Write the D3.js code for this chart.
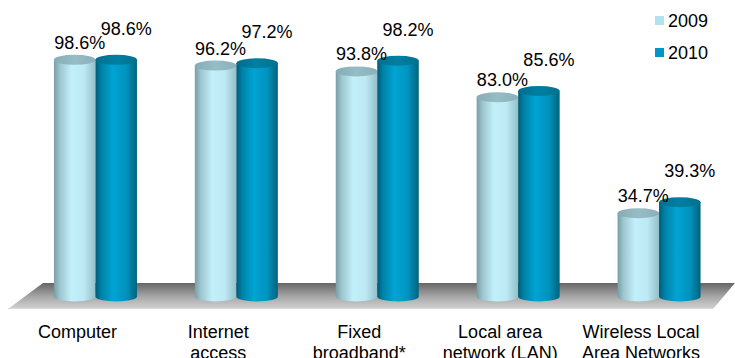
<!DOCTYPE html>
<html>
<head>
<meta charset="utf-8">
<script src="https://cdn.jsdelivr.net/npm/d3@7"></script>
<style>
  html, body { margin: 0; padding: 0; background: #fff; }
  svg { display: block; font-family: "Liberation Sans", Arial, sans-serif; }
</style>
</head>
<body>
<svg id="chart" width="735" height="358"></svg>
<script>
// Share of enterprises using each technology, 2009 vs 2010
const categories = ["Computer", "Internet access", "Fixed broadband*", "Local area network (LAN)", "Wireless Local Area Networks"];
const categoryLines = [["Computer"], ["Internet", "access"], ["Fixed", "broadband*"], ["Local area", "network (LAN)"], ["Wireless Local", "Area Networks"]];
const seriesNames = ["2009", "2010"];
const values2009 = [98.6, 96.2, 93.8, 83.0, 34.7];
const values2010 = [98.6, 97.2, 98.2, 85.6, 39.3];

const rows = categories.map((c, i) => ({ category: c, lines: categoryLines[i], v: [values2009[i], values2010[i]] }));

const svg = d3.select("#chart");
const defs = svg.append("defs");

// Horizontal shading that gives each bar a rounded, cylindrical look
function bodyGradient(id, stops) {
  const g = defs.append("linearGradient").attr("id", id)
    .attr("x1", "0%").attr("x2", "100%").attr("y1", "0%").attr("y2", "0%");
  stops.forEach(([o, c]) => g.append("stop").attr("offset", o).attr("stop-color", c));
}
bodyGradient("body2009", [["0%", "#789ea7"], ["14%", "#9dc5ce"], ["42%", "#c2f0fa"], ["72%", "#bce9f3"], ["100%", "#93bfc9"]]);
bodyGradient("body2010", [["0%", "#005c76"], ["14%", "#0082a7"], ["42%", "#00a4d3"], ["74%", "#0093be"], ["100%", "#00627d"]]);
bodyGradient("top2009", [["0%", "#86acb5"], ["50%", "#96bdc6"], ["100%", "#8ab0b9"]]);
bodyGradient("top2010", [["0%", "#006e8d"], ["50%", "#007fa2"], ["100%", "#00718f"]]);

const floorGrad = defs.append("linearGradient").attr("id", "floor")
  .attr("x1", "0%").attr("x2", "0%").attr("y1", "0%").attr("y2", "100%");
floorGrad.append("stop").attr("offset", "0%").attr("stop-color", "#666666");
floorGrad.append("stop").attr("offset", "55%").attr("stop-color", "#a9a9a9");
floorGrad.append("stop").attr("offset", "100%").attr("stop-color", "#d2d2d2");

const legendColors = ["#b2e2ee", "#0097c6"];
const bodyFill = ["url(#body2009)", "url(#body2010)"];
const topFill = ["url(#top2009)", "url(#top2010)"];

// Scales
const x0 = d3.scaleBand().domain(categories).range([25, 729.5]).padding(0);
const clusterWidth = 83;
const x1 = d3.scaleBand().domain(seriesNames).range([0, clusterWidth]).padding(0);
const y = d3.scaleLinear().domain([0, 100]).range([296.5, 56.5]);

const ry = 5;

// Floor of the 3-D plot area
const floorTop = 283, floorBottom = 309;
svg.append("polygon")
  .attr("points", [[43, floorTop], [735, floorTop], [713, floorBottom], [8, floorBottom]].map(p => p.join(",")).join(" "))
  .attr("fill", "url(#floor)");
svg.append("line")
  .attr("x1", 8).attr("x2", 713).attr("y1", floorBottom - 0.5).attr("y2", floorBottom - 0.5)
  .attr("stroke", "#dcdcdc").attr("stroke-width", 1);

// Cylinders
const groups = svg.append("g").selectAll("g.cluster")
  .data(rows).join("g")
  .attr("class", "cluster")
  .attr("transform", d => `translate(${x0(d.category) + x0.bandwidth() / 2 - clusterWidth / 2},0)`);

seriesNames.forEach((s, si) => {
  const bw = x1.bandwidth();
  const rx = bw / 2;
  const cyl = groups.append("g").attr("class", "cyl s" + s);
  // body plus rounded bottom
  cyl.append("path")
    .attr("fill", bodyFill[si])
    .attr("d", d => {
      const xl = x1(s), xr = x1(s) + bw;
      const yt = y(d.v[si]), yb = y(0);
      return `M${xl},${yt} L${xl},${yb} A${rx},${ry} 0 0 0 ${xr},${yb} L${xr},${yt} Z`;
    });
  // top cap
  cyl.append("ellipse")
    .attr("cx", x1(s) + rx)
    .attr("cy", d => y(d.v[si]))
    .attr("rx", rx).attr("ry", ry)
    .attr("fill", topFill[si]);
});

// Value labels
const fmt = d => d3.format(".1f")(d) + "%";
const labelDx = [5, 10], labelDy = [11, 25];
seriesNames.forEach((s, si) => {
  groups.append("text")
    .attr("x", x1(s) + x1.bandwidth() / 2 + labelDx[si])
    .attr("y", d => y(d.v[si]) - labelDy[si])
    .attr("text-anchor", "middle")
    .attr("font-size", 18)
    .attr("fill", "#000")
    .text(d => fmt(d.v[si]));
});

// Category labels along the front of the floor
const catText = svg.append("g").selectAll("text")
  .data(rows).join("text")
  .attr("x", d => x0(d.category) + x0.bandwidth() / 2 - 18)
  .attr("y", 338)
  .attr("text-anchor", "middle")
  .attr("font-size", 18)
  .attr("fill", "#000");
catText.selectAll("tspan")
  .data(d => d.lines.map(l => ({ l, x: x0(d.category) + x0.bandwidth() / 2 - 18 })))
  .join("tspan")
  .attr("x", d => d.x)
  .attr("dy", (d, i) => i === 0 ? 0 : 20.5)
  .text(d => d.l);

// Legend
const legend = svg.append("g").attr("transform", "translate(655,16)");
seriesNames.forEach((s, i) => {
  const g = legend.append("g").attr("transform", `translate(0,${i * 32})`);
  g.append("rect").attr("width", 9).attr("height", 9).attr("fill", legendColors[i]);
  g.append("text").attr("x", 13).attr("y", 11).attr("font-size", 18).attr("fill", "#000").text(s);
});
</script>
</body>
</html>
